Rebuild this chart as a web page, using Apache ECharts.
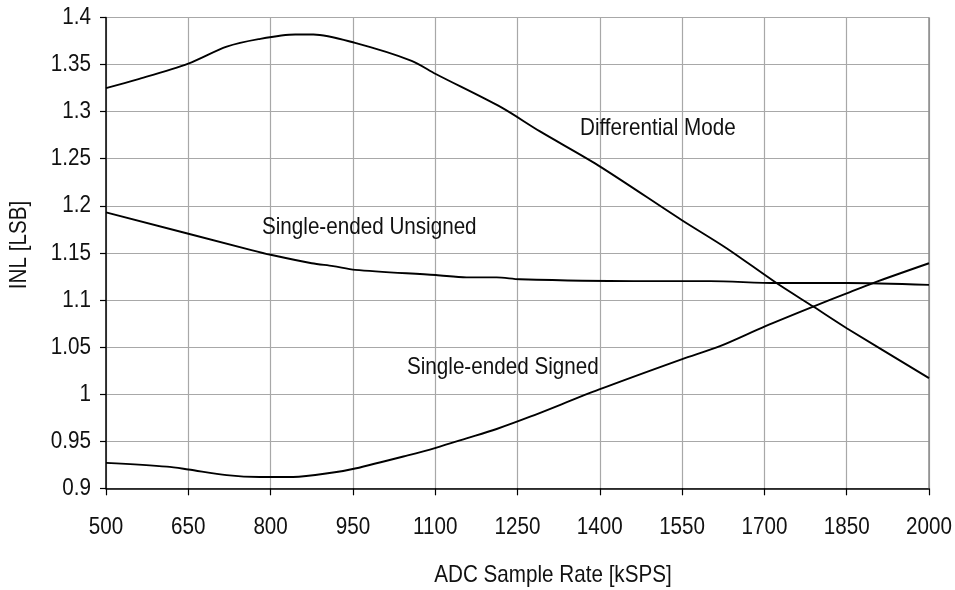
<!DOCTYPE html>
<html>
<head>
<meta charset="utf-8">
<script src="https://cdn.jsdelivr.net/npm/echarts@6/dist/echarts.min.js"></script>
<style>
html,body{margin:0;padding:0;background:#fff;overflow:hidden;width:955px;height:590px;}
#chart{width:955px;height:590px;}
</style>
</head>
<body>
<div id="chart"></div>
<script>
var FONT = "'Liberation Sans', Arial, sans-serif";

var xTicks = [500, 650, 800, 950, 1100, 1250, 1400, 1550, 1700, 1850, 2000];
var yTicks = [0.9, 0.95, 1, 1.05, 1.1, 1.15, 1.2, 1.25, 1.3, 1.35, 1.4];
var xTickLabels = ['500', '650', '800', '950', '1100', '1250', '1400', '1550', '1700', '1850', '2000'];
var yTickLabels = ['0.9', '0.95', '1', '1.05', '1.1', '1.15', '1.2', '1.25', '1.3', '1.35', '1.4'];

var diffX = [500, 556, 650, 720, 778, 845, 878, 954, 1057, 1101, 1219, 1291, 1397, 1549, 1631, 1722, 1789, 1850, 2000];
var diffY = [1.325, 1.334, 1.351, 1.369, 1.377, 1.382, 1.382, 1.373, 1.354, 1.340, 1.305, 1.279, 1.243, 1.185, 1.155, 1.118, 1.093, 1.070, 1.017];

var unsX = [500, 765, 800, 875, 914, 954, 1101, 1157, 1212, 1254, 1461, 1601, 1722, 1850, 2000];
var unsY = [1.193, 1.153, 1.148, 1.139, 1.136, 1.132, 1.1265, 1.124, 1.124, 1.122, 1.120, 1.120, 1.118, 1.118, 1.116];

var sigX = [500, 611, 650, 720, 780, 841, 917, 954, 1050, 1101, 1157, 1212, 1273, 1399, 1549, 1619, 1701, 1789, 1850, 1898, 2000];
var sigY = [0.927, 0.923, 0.920, 0.914, 0.912, 0.912, 0.917, 0.921, 0.935, 0.943, 0.953, 0.963, 0.976, 1.005, 1.037, 1.051, 1.072, 1.093, 1.107, 1.118, 1.139];

var seriesNames = ['Differential Mode', 'Single-ended Unsigned', 'Single-ended Signed'];
var axisNames = ['ADC Sample Rate [kSPS]', 'INL [LSB]'];

function pairs(xs, ys) {
  return xs.map(function (x, i) { return [x, ys[i]]; });
}

var chart = echarts.init(document.getElementById('chart'), null, {renderer: 'canvas', width: 955, height: 590});

function lineSeries(name, xs, ys) {
  return {
    name: name,
    type: 'line',
    data: pairs(xs, ys),
    smooth: 0.3,
    showSymbol: false,
    symbol: 'none',
    lineStyle: {color: '#000', width: 1.9},
    z: 5,
    animation: false
  };
}

function txt(text, x, y, align, extra) {
  return Object.assign({
    type: 'text', x: x, y: y, scaleX: 0.86,
    style: {text: text, fontFamily: FONT, fontSize: 24, fill: '#111', align: align || 'left', verticalAlign: 'middle'}
  }, extra || {});
}

chart.setOption({
  backgroundColor: '#fff',
  animation: false,
  grid: {left: 106, right: 26, top: 17.5, bottom: 101.7, containLabel: false},
  xAxis: {
    type: 'value',
    min: xTicks[0],
    max: xTicks[xTicks.length - 1],
    interval: xTicks[1] - xTicks[0],
    axisLine: {show: true, lineStyle: {color: '#000', width: 1.5}},
    axisTick: {show: true, inside: false, length: 7, lineStyle: {color: '#000', width: 1.2}},
    axisLabel: {show: false},
    splitLine: {show: true, lineStyle: {color: '#a8a8a8', width: 1.2}}
  },
  yAxis: {
    type: 'value',
    min: yTicks[0],
    max: yTicks[yTicks.length - 1],
    interval: 0.05,
    axisLine: {show: true, lineStyle: {color: '#000', width: 1.5}},
    axisTick: {show: true, inside: false, length: 6, lineStyle: {color: '#000', width: 1.2}},
    axisLabel: {show: false},
    splitLine: {show: true, lineStyle: {color: '#a8a8a8', width: 1.2}}
  },
  series: [
    lineSeries(seriesNames[0], diffX, diffY),
    lineSeries(seriesNames[1], unsX, unsY),
    lineSeries(seriesNames[2], sigX, sigY)
  ]
});

var graphics = [
  {type: 'line', shape: {x1: 929, y1: 17.5, x2: 929, y2: 488.3}, style: {stroke: '#8c8c8c', lineWidth: 1.5}, z: 3},
  txt(seriesNames[0], 580, 128),
  txt(seriesNames[1], 262, 227),
  txt(seriesNames[2], 407, 367),
  txt(axisNames[0], 553, 575, 'center'),
  txt(axisNames[1], 19, 245, 'center', {rotation: Math.PI / 2})
];
xTicks.forEach(function (v, i) {
  var px = chart.convertToPixel({xAxisIndex: 0}, v);
  graphics.push(txt(xTickLabels[i], px, 527, 'center'));
});
yTicks.forEach(function (v, i) {
  var py = chart.convertToPixel({yAxisIndex: 0}, v);
  graphics.push(txt(yTickLabels[i], 91, py, 'right'));
});
chart.setOption({graphic: graphics});
</script>
</body>
</html>
